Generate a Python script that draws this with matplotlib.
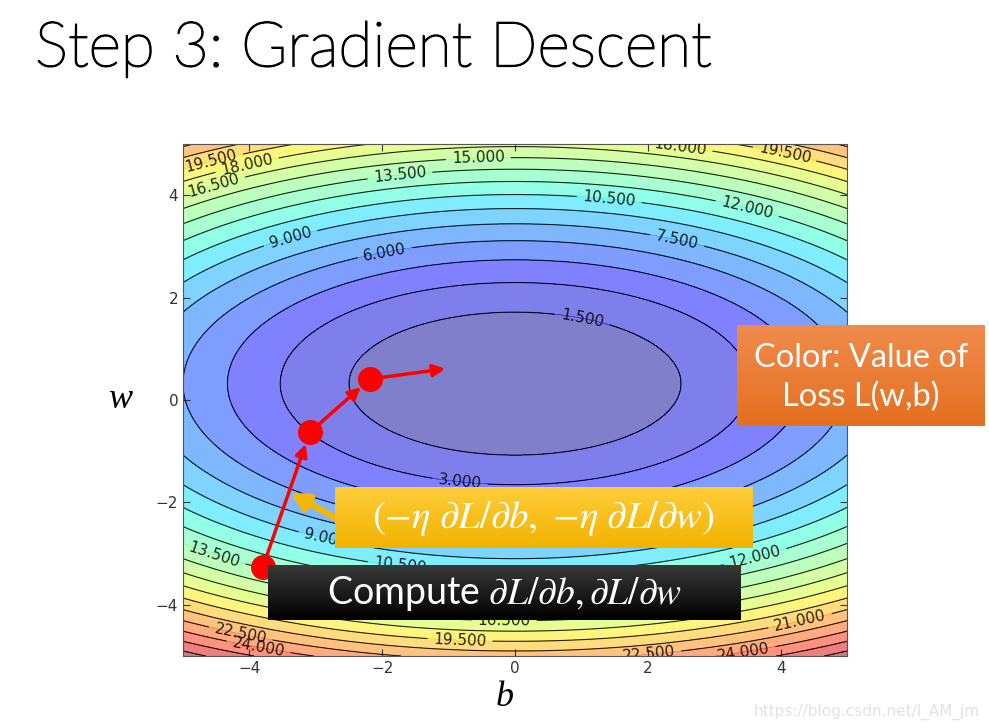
import numpy as np
import matplotlib.pyplot as plt
import matplotlib.colors as mcolors
import matplotlib.patheffects as pe

plt.rcParams['mathtext.fontset'] = 'stix'

# Loss surface: L = a*(b-b0)^2 + c*(w-w0)^2
b_center = 0.0
w_center = 0.32
b_curv = 0.24
w_curv = 0.77
levels = np.arange(0, 30, 1.5)

# Gradient descent path (b, w)
b_path = [-3.8, -3.09, -2.18, -1.05]
w_path = [-3.27, -0.63, 0.41, 0.61]

# contour labels: level and approximate (b, w) position
label_lev = [19.5, 18.0, 16.5, 15.0, 13.5, 10.5, 12.0, 9.0, 7.5, 6.0, 1.5, 18.0, 19.5,
             3.0, 9.0, 13.5, 10.5, 12.0, 16.5, 22.5, 24.0, 19.5, 22.5, 24.0, 21.0]
label_pos = [(-4.59, 4.75), (-4.07, 4.79), (-4.59, 4.39), (-0.56, 4.75), (-1.73, 4.43),
             (1.43, 3.98), (3.51, 3.80), (-3.39, 3.17), (2.45, 3.15), (-1.96, 2.92),
             (1.01, 1.58), (2.48, 4.98), (4.07, 4.89), (-0.83, -1.58), (-2.86, -2.70),
             (-4.55, -3.09), (-1.73, -3.25), (3.61, -3.05), (-0.15, -4.04), (-4.14, -4.57),
             (-3.87, -4.93), (-0.83, -4.71), (1.43, -5.0), (3.46, -4.97), (4.29, -4.22)]

W, H = 989, 728
fig = plt.figure(figsize=(W / 100, H / 100), dpi=100)
fig.patch.set_facecolor('white')


def px_rect(x0, y0, x1, y1):
    return [x0 / W, 1 - y1 / H, (x1 - x0) / W, (y1 - y0) / H]


ax = fig.add_axes(px_rect(183, 144, 847, 656))
bb = np.linspace(-5, 5, 400)
ww = np.linspace(-5, 5, 400)
B, Wg = np.meshgrid(bb, ww)
Z = b_curv * (B - b_center) ** 2 + w_curv * (Wg - w_center) ** 2

ax.contourf(B, Wg, Z, levels=levels, cmap='jet', alpha=0.5)
cs = ax.contour(B, Wg, Z, levels=levels, colors='k', linewidths=0.8, alpha=0.85)


# snap each label spot onto its own level so clabel picks the right line
def snap(lev, pos):
    t = np.linspace(0, 2 * np.pi, 2000)
    eb = b_center + np.sqrt(lev / b_curv) * np.cos(t)
    ew = w_center + np.sqrt(lev / w_curv) * np.sin(t)
    ok = (np.abs(eb) < 4.97) & (np.abs(ew) < 4.97)
    d = ((eb - pos[0]) * 66) ** 2 + ((ew - pos[1]) * 51) ** 2
    d[~ok] = np.inf
    k = np.argmin(d)
    return (eb[k], ew[k])


spots = [snap(lev, pos) for lev, pos in zip(label_lev, label_pos)]
ax.clabel(cs, manual=spots, fmt='%.3f', fontsize=11, inline=True, inline_spacing=6)

ax.set_xlim(-5, 5)
ax.set_ylim(-5, 5)
ax.set_xticks([-4, -2, 0, 2, 4])
ax.set_yticks([-4, -2, 0, 2, 4])
ax.set_xticklabels(['\u22124', '\u22122', '0', '2', '4'])
ax.set_yticklabels(['\u22124', '\u22122', '0', '2', '4'])
ax.tick_params(direction='in', top=True, right=True, labelsize=11, colors='#333333', length=5)
for s in ax.spines.values():
    s.set_color('#555555')

# red path
ax.plot(b_path[:3], w_path[:3], 'o', color='red', markersize=17, zorder=6)
for i in range(3):
    ax.annotate('', xy=(b_path[i + 1], w_path[i + 1]), xytext=(b_path[i], w_path[i]),
                arrowprops=dict(arrowstyle='-|>', color='red', lw=2.5, mutation_scale=18,
                                shrinkA=0, shrinkB=9 if i < 2 else 0), zorder=5)

# yellow pointer arrow
ax.annotate('', xy=(-3.39, -1.81), xytext=(-2.71, -2.30),
            arrowprops=dict(arrowstyle='-|>', color='#f5b800', lw=4.5, mutation_scale=26,
                            shrinkA=0, shrinkB=0), zorder=7)

ax.text(-5.95, 0, 'w', fontsize=26, family='Liberation Serif', style='italic',
        ha='center', va='center')
ax.text(-0.15, -5.82, 'b', fontsize=26, family='Liberation Serif', style='italic',
        ha='center', va='center')


def box(x0, y0, x1, y1, top, bottom):
    bax = fig.add_axes(px_rect(x0, y0, x1, y1))
    c0 = np.array(mcolors.to_rgb(top))
    c1 = np.array(mcolors.to_rgb(bottom))
    t = np.linspace(0, 1, 50)[:, None]
    grad = (c0 * (1 - t) + c1 * t)[:, None, :]
    bax.imshow(grad, aspect='auto', extent=[0, 1, 0, 1])
    bax.set_xlim(0, 1)
    bax.set_ylim(0, 1)
    bax.axis('off')
    return bax


yb = box(335, 487, 753, 548, '#ffcd3a', '#f2b300')
yb.text(0.5, 0.48, r'$(-\eta\ \partial L/\partial b,\ {-\eta}\ \partial L/\partial w)$',
        color='white', fontsize=28, ha='center', va='center')

kb = box(268, 565, 740, 620, '#3a3a3a', '#000000')
kb.text(0.5, 0.48, r'Compute $\partial L/\partial b, \partial L/\partial w$',
        color='white', fontsize=27, ha='center', va='center', family='Lato')

ob = box(737, 325, 985, 426, '#f08b4c', '#e4701f')
ob.text(0.5, 0.48, 'Color: Value of\nLoss L(w,b)', color='white', fontsize=23.5,
        ha='center', va='center', family='Lato', linespacing=1.35)

fig.text(35 / W, 1 - 49 / H, 'Step 3: Gradient Descent', fontsize=45, family='Lato',
         weight='light', ha='left', va='center',
         path_effects=[pe.withStroke(linewidth=1.2, foreground='black')])
fig.text(980 / W, 1 - 712 / H, 'https://blog.csdn.net/I_AM_jm', fontsize=11,
         color='#e2e2e2', ha='right', va='center')

fig.savefig('out.png', dpi=100)
